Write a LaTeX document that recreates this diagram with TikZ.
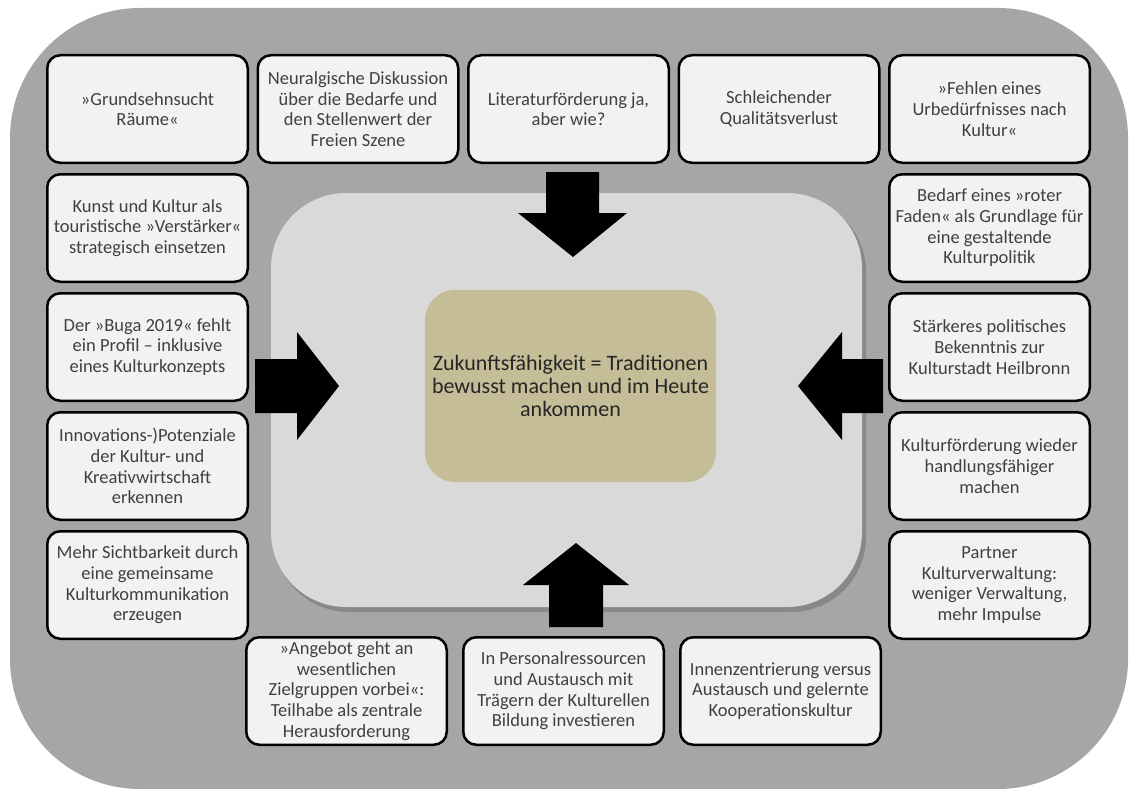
\documentclass[tikz,border=0pt]{standalone}
\usepackage{fontspec}
\setmainfont{Carlito}
\usepackage{tikz}
\usetikzlibrary{shapes,arrows}

\definecolor{outergray}{HTML}{A6A6A6}
\definecolor{innergray}{HTML}{D9D9D9}
\definecolor{boxgray}{HTML}{F2F2F2}
\definecolor{tan}{HTML}{C4BD97}
\definecolor{textgray}{HTML}{404040}

\begin{document}
\begin{tikzpicture}[x=1pt, y=-1pt, node distance=210.5pt]
    % Define styles
    \tikzstyle{issue} = [rectangle, rounded corners=13pt, draw=black, line width=2.5pt, fill=boxgray, text=textgray, text centered, align=center, minimum width=200.5pt, minimum height=107.5pt, inner sep=2pt, font=\fontsize{18.5}{20.7}\selectfont]
    \tikzstyle{core} = [rectangle, rounded corners=30pt, fill=tan, text=black!85, text centered, align=center, minimum width=291pt, minimum height=192pt, font=\fontsize{22}{23.3}\selectfont]
    \tikzstyle{blockarrow} = [fill=black]

    \useasboundingbox (0,0) rectangle (1129,792);

    % Background
    \fill [outergray, rounded corners=130pt] (10,8) rectangle (1128,789);
    \fill [black, opacity=0.18, rounded corners=75pt] (274,197) rectangle (866,612);
    \fill [innergray, rounded corners=75pt] (271,193) rectangle (862,607);

    % Components
    \node [core] (zukunft) at (570.5,386) {Zukunftsfähigkeit = Traditionen\\bewusst machen und im Heute\\ankommen};

    \node [issue] (raeume) at (147.5,109) {»Grundsehnsucht\\Räume«};
    \node [issue, right of=raeume] (szene) {Neuralgische Diskussion\\über die Bedarfe und\\den Stellenwert der\\Freien Szene};
    \node [issue, right of=szene] (literatur) {Literaturförderung ja,\\aber wie?};
    \node [issue, right of=literatur] (qualitaet) {Schleichender\\Qualitätsverlust};
    \node [issue, right of=qualitaet] (urbeduerfnis) {»Fehlen eines\\Urbedürfnisses nach\\Kultur«};

    \node [issue, below of=raeume, node distance=119pt] (tourismus) {Kunst und Kultur als\\touristische »Verstärker«\\strategisch einsetzen};
    \node [issue, below of=tourismus, node distance=119pt] (buga) {Der »Buga 2019« fehlt\\ein Profil -- inklusive\\eines Kulturkonzepts};
    \node [issue, below of=buga, node distance=119pt] (kreativ) {Innovations-)Potenziale\\der Kultur- und\\Kreativwirtschaft\\erkennen};
    \node [issue, below of=kreativ, node distance=119pt] (sichtbar) {Mehr Sichtbarkeit durch\\eine gemeinsame\\Kulturkommunikation\\erzeugen};

    \node [issue, below of=urbeduerfnis, node distance=119pt] (faden) {Bedarf eines »roter\\Faden« als Grundlage für\\eine gestaltende\\Kulturpolitik};
    \node [issue, below of=faden, node distance=119pt] (bekenntnis) {Stärkeres politisches\\Bekenntnis zur\\Kulturstadt Heilbronn};
    \node [issue, below of=bekenntnis, node distance=119pt] (foerderung) {Kulturförderung wieder\\handlungsfähiger\\machen};
    \node [issue, below of=foerderung, node distance=119pt] (verwaltung) {Partner\\Kulturverwaltung:\\weniger Verwaltung,\\mehr Impulse};

    \node [issue] (angebot) at (346.5,691) {»Angebot geht an\\wesentlichen\\Zielgruppen vorbei«:\\Teilhabe als zentrale\\Herausforderung};
    \node [issue, right of=angebot, node distance=217pt] (personal) {In Personalressourcen\\und Austausch mit\\Trägern der Kulturellen\\Bildung investieren};
    \node [issue, right of=personal, node distance=217pt] (innen) {Innenzentrierung versus\\Austausch und gelernte\\Kooperationskultur};

    % Arrows
    \fill [blockarrow] (546,172) -- (599,172) -- (599,213) -- (627,213) -- (573,257) -- (518,213) -- (546,213) -- cycle;
    \fill [blockarrow] (549,627) -- (603,627) -- (603,585) -- (629,585) -- (576,543) -- (523,585) -- (549,585) -- cycle;
    \fill [blockarrow] (255,359) -- (297,359) -- (297,332) -- (339,386) -- (297,440) -- (297,413) -- (255,413) -- cycle;
    \fill [blockarrow] (883,359) -- (842,359) -- (842,332) -- (798,386) -- (842,440) -- (842,413) -- (883,413) -- cycle;
\end{tikzpicture}
\end{document}
